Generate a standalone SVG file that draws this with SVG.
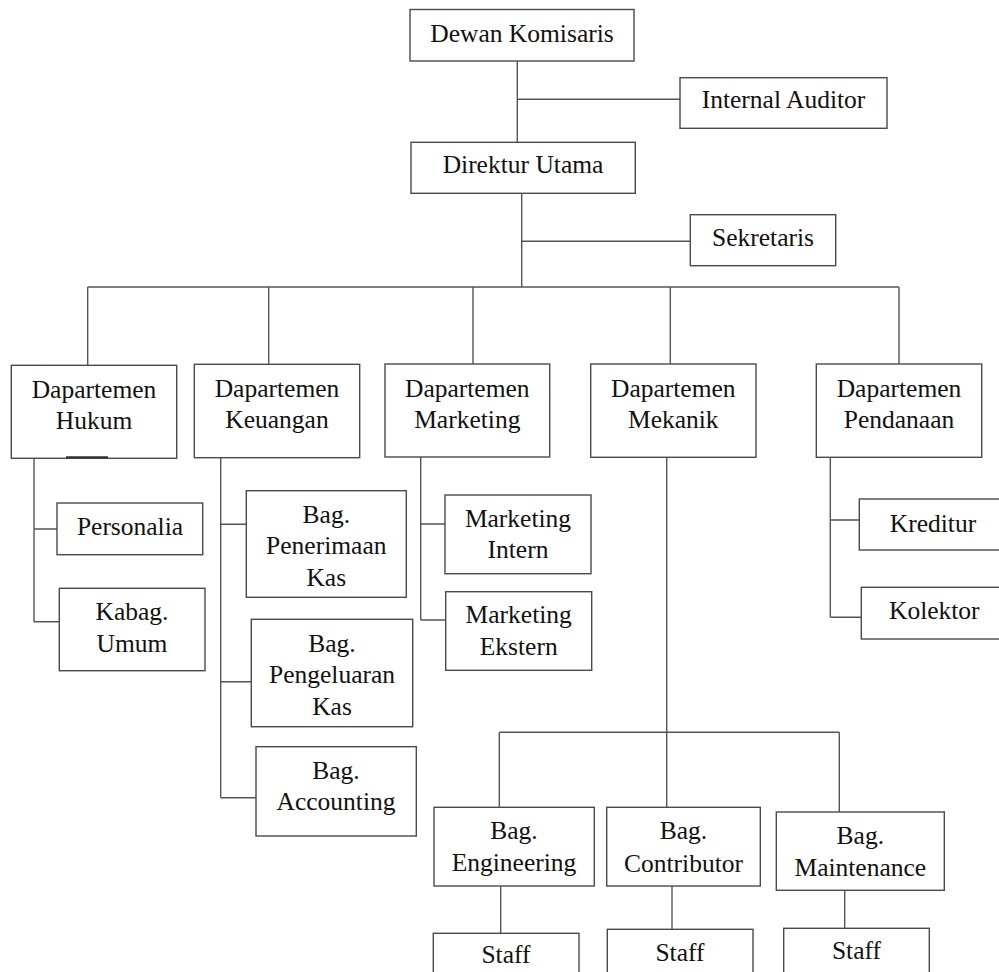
<svg xmlns="http://www.w3.org/2000/svg" width="999" height="972" viewBox="0 0 999 972">
<style>
rect.box{fill:#fff;stroke:#4a4a4a;stroke-width:1.4}
text{font-family:"Liberation Serif","Times New Roman",serif;font-size:25.5px;fill:#111;text-anchor:middle}
#connectors path{fill:none;stroke:#555;stroke-width:1.4}
</style>
<rect width="999" height="972" fill="#fff"/>
<g id="connectors">
<path d="M517.3 61V142M517.3 99.3H680"/>
<path d="M521.7 193V287M521.7 241.3H690.3"/>
<path d="M87.7 287H899M87.7 287V365.3M268.7 287V364.3M473 287V364M670.3 287V364M899 287V364"/>
<path d="M34 458.3V621.7M34 529H57M34 621.7H59.3"/>
<path d="M220.7 457.7V797.7M220.7 524.3H246.3M220.7 681.7H251.3M220.7 797.7H256"/>
<path d="M420.7 457V620M420.7 524H445M420.7 620H445.7"/>
<path d="M830.3 457.3V617.3M830.3 520H859.3M830.3 617.3H861.3"/>
<path d="M666.7 457.3V807.3M499.3 732.3H839.3M499.3 732.3V807.3M839.3 732.3V812"/>
<path d="M500.7 886V933.3M672 886V929.3M844.7 890.3V928.3"/>
</g>
<g id="dewan"><rect class="box" x="410" y="9.5" width="224" height="51.5"/><text x="522" y="41.7">Dewan Komisaris</text></g>
<g id="auditor"><rect class="box" x="680" y="77.7" width="207" height="50.6"/><text x="783.5" y="108.3">Internal Auditor</text></g>
<g id="direktur"><rect class="box" x="411" y="142.3" width="224.3" height="51"/><text x="523" y="173.3">Direktur Utama</text></g>
<g id="sekretaris"><rect class="box" x="690.3" y="214.7" width="145.4" height="51"/><text x="763" y="246">Sekretaris</text></g>
<g id="hukum"><rect class="box" x="11.3" y="365.3" width="165.4" height="93"/><text x="94" y="398.3">Dapartemen</text><text x="94" y="429">Hukum</text><line x1="66" y1="457.3" x2="108" y2="457.3" stroke="#333" stroke-width="2"/></g>
<g id="keuangan"><rect class="box" x="194.3" y="364.3" width="165.4" height="93.4"/><text x="277" y="397.3">Dapartemen</text><text x="277" y="428.3">Keuangan</text></g>
<g id="marketing"><rect class="box" x="385" y="364" width="164.7" height="93"/><text x="467.3" y="396.5">Dapartemen</text><text x="467.3" y="427.5">Marketing</text></g>
<g id="mekanik"><rect class="box" x="590.7" y="364" width="165.3" height="93.3"/><text x="673.3" y="396.5">Dapartemen</text><text x="673.3" y="427.5">Mekanik</text></g>
<g id="pendanaan"><rect class="box" x="816.3" y="364" width="165.4" height="93.3"/><text x="899" y="396.5">Dapartemen</text><text x="899" y="427.5">Pendanaan</text></g>
<g id="personalia"><rect class="box" x="57" y="503" width="145.7" height="51.7"/><text x="130" y="535">Personalia</text></g>
<g id="kabag-umum"><rect class="box" x="59.3" y="588.3" width="145.7" height="82.4"/><text x="132" y="620">Kabag.</text><text x="132" y="651.7">Umum</text></g>
<g id="penerimaan"><rect class="box" x="246.3" y="490.7" width="160" height="106.6"/><text x="326.3" y="522.7">Bag.</text><text x="326.3" y="554.3">Penerimaan</text><text x="326.3" y="585.7">Kas</text></g>
<g id="pengeluaran"><rect class="box" x="251.3" y="619.3" width="161.4" height="107.4"/><text x="332" y="651.7">Bag.</text><text x="332" y="683.3">Pengeluaran</text><text x="332" y="715">Kas</text></g>
<g id="accounting"><rect class="box" x="256" y="746.7" width="160.3" height="89.3"/><text x="336" y="779">Bag.</text><text x="336" y="810">Accounting</text></g>
<g id="mkt-intern"><rect class="box" x="445" y="495" width="146" height="78.7"/><text x="518" y="526.7">Marketing</text><text x="518" y="557.7">Intern</text></g>
<g id="mkt-ekstern"><rect class="box" x="445.7" y="591.7" width="146" height="78.6"/><text x="518.7" y="623.3">Marketing</text><text x="518.7" y="655">Ekstern</text></g>
<g id="kreditur"><rect class="box" x="859.3" y="499" width="150" height="51"/><text x="933" y="531.7">Kreditur</text></g>
<g id="kolektor"><rect class="box" x="861.3" y="587.3" width="150" height="51.7"/><text x="934.3" y="619.3">Kolektor</text></g>
<g id="engineering"><rect class="box" x="434" y="807.3" width="160.3" height="78.7"/><text x="514" y="839.3">Bag.</text><text x="514" y="870.7">Engineering</text></g>
<g id="contributor"><rect class="box" x="606.7" y="807.3" width="153.6" height="78.7"/><text x="683.5" y="839.3">Bag.</text><text x="683.5" y="871.7">Contributor</text></g>
<g id="maintenance"><rect class="box" x="776.3" y="812" width="168" height="78.3"/><text x="860.3" y="844">Bag.</text><text x="860.3" y="876">Maintenance</text></g>
<g id="staff-eng"><rect class="box" x="433.3" y="933.3" width="145.7" height="50"/><text x="506" y="963.3">Staff</text></g>
<g id="staff-con"><rect class="box" x="607.3" y="929.3" width="145.7" height="50"/><text x="680" y="960.7">Staff</text></g>
<g id="staff-mnt"><rect class="box" x="783.7" y="928.3" width="145.6" height="50"/><text x="856.5" y="959.3">Staff</text></g>
</svg>
